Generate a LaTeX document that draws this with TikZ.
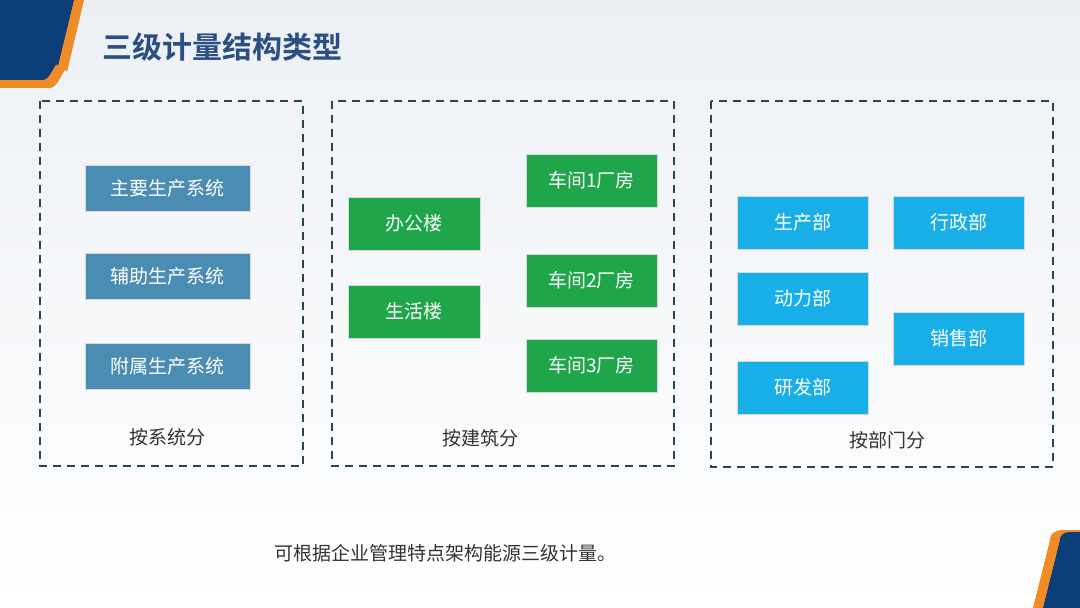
\documentclass[tikz,border=0pt]{standalone}
\usepackage{fontspec}
\setmainfont{Noto Sans CJK SC}
\newfontfamily\cjkb{Noto Sans CJK SC Bold}
\definecolor{bg}{RGB}{236,240,245}
\definecolor{dk}{RGB}{40,70,75}
\definecolor{navy}{RGB}{12,62,122}
\definecolor{org}{RGB}{240,140,40}
\begin{document}
\begin{tikzpicture}[x=0.5pt,y=-0.5pt,
  grp/.style={draw=dk,line width=1.3pt,dash pattern=on 4pt off 3pt},
  bx/.style={draw=white!70!gray,line width=0.4pt,text=white,font=\fontsize{9.5}{11}\selectfont,inner sep=0pt},
  sysb/.style={bx,fill={rgb,255:red,74;green,140;blue,178}},
  bldb/.style={bx,fill={rgb,255:red,31;green,166;blue,74}},
  depb/.style={bx,fill={rgb,255:red,24;green,174;blue,232}},
  lab/.style={font=\fontsize{9.5}{11}\selectfont,text=black!80}]
\fill[top color=bg,bottom color=white] (0,0) rectangle (1080,608);
\useasboundingbox (0,0) rectangle (1080,608);
% corners
\fill[org] (0,0) -- (84,0) -- (67,72) to[out=105,in=0] (50,88) -- (0,88) -- cycle;
\fill[navy] (0,0) -- (74,0) -- (58,66) to[out=105,in=0] (43,80) -- (0,80) -- cycle;
\fill[org] (1050,540) to[out=100,in=180] (1062,530) -- (1080,530) -- (1080,608) -- (1033,608) -- cycle;
\fill[navy] (1060,540) to[out=100,in=180] (1070,532) -- (1080,532) -- (1080,608) -- (1043,608) -- cycle;
\node[text={rgb,255:red,44;green,79;blue,130},font=\cjkb\fontsize{15}{17}\selectfont] (title) at (222,47) {三级计量结构类型};
% groups
\draw[grp] (40,101) rectangle (303,466);
\draw[grp] (332,101) rectangle (674,466);
\draw[grp] (711,101) rectangle (1053,467);
\node[sysb,minimum width=82.5pt,minimum height=23pt] (s1) at (167.5,188) {主要生产系统};
\node[sysb,minimum width=82.5pt,minimum height=23pt] (s2) at (167.5,276.5) {辅助生产系统};
\node[sysb,minimum width=82.5pt,minimum height=23pt] (s3) at (167.5,366) {附属生产系统};
\node[lab] (l1) at (167,437) {按系统分};
\node[bldb,minimum width=66pt,minimum height=26.5pt] (b1) at (414,223.5) {办公楼};
\node[bldb,minimum width=66pt,minimum height=26.5pt] (b2) at (414,311.5) {生活楼};
\node[bldb,minimum width=65.5pt,minimum height=26.5pt] (b3) at (591.5,180.5) {车间1厂房};
\node[bldb,minimum width=65.5pt,minimum height=26.5pt] (b4) at (591.5,280.5) {车间2厂房};
\node[bldb,minimum width=65.5pt,minimum height=26.5pt] (b5) at (591.5,365.5) {车间3厂房};
\node[lab] (l2) at (480,438) {按建筑分};
\node[depb,minimum width=65.5pt,minimum height=26.5pt] (d1) at (802.5,222.5) {生产部};
\node[depb,minimum width=65.5pt,minimum height=26.5pt] (d2) at (958.5,222.5) {行政部};
\node[depb,minimum width=65.5pt,minimum height=26.5pt] (d3) at (802.5,298.5) {动力部};
\node[depb,minimum width=65.5pt,minimum height=26.5pt] (d4) at (958.5,338.5) {销售部};
\node[depb,minimum width=65.5pt,minimum height=26.5pt] (d5) at (802.5,387.5) {研发部};
\node[lab] (l3) at (887,440) {按部门分};
\node[lab] (note) at (445,553) {可根据企业管理特点架构能源三级计量。};
\end{tikzpicture}
\end{document}
